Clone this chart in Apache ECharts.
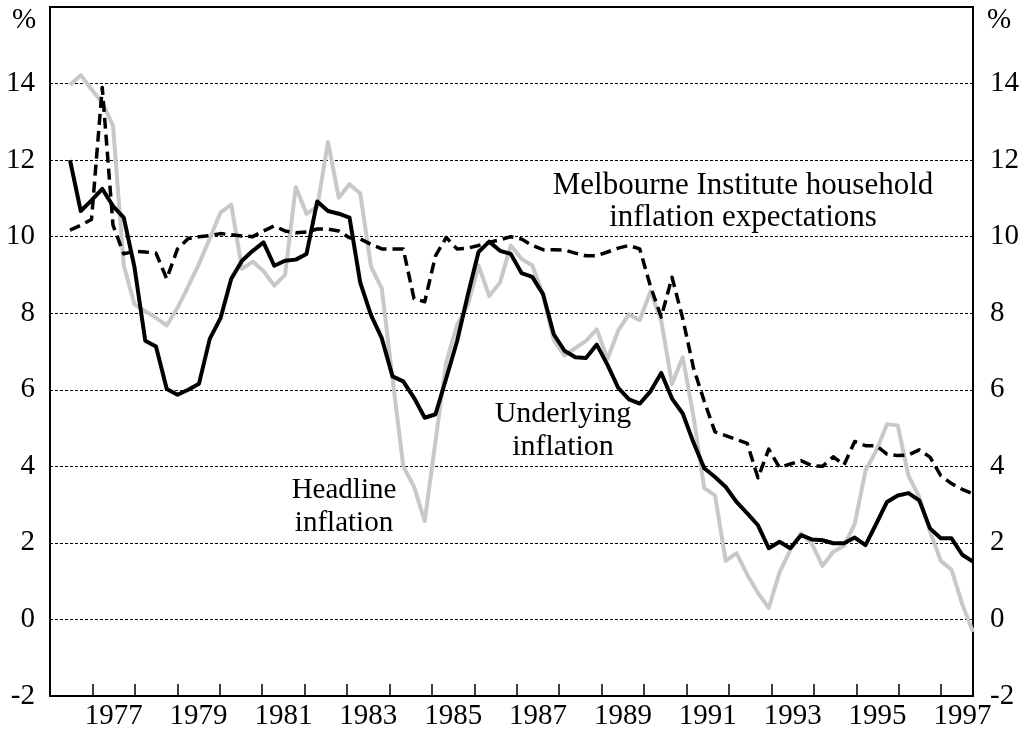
<!DOCTYPE html>
<html>
<head>
<meta charset="utf-8">
<script src="https://cdn.jsdelivr.net/npm/echarts@6/dist/echarts.min.js"></script>
<style>
html, body { margin: 0; background: #fff; }
#chart { width: 1034px; height: 740px; }
</style>
</head>
<body>
<div id="chart"></div>
<script>
// quarterly observations, Sep-1976 .. Sep-1997
var quarters = [];
(function () {
    var m = ['Mar', 'Jun', 'Sep', 'Dec'];
    for (var y = 1976; y <= 1997; y++) {
        for (var q = 0; q < 4; q++) {
            if (y === 1976 && q < 2) continue;
            if (y === 1997 && q > 2) continue;
            quarters.push(m[q] + '-' + y);
        }
    }
})();

var headline = [
    13.96, 14.22, 13.85, 13.5, 12.9, 9.25, 8.23, 8.05, 7.88, 7.68,
    8.14, 8.7, 9.29, 9.95, 10.63, 10.84, 9.16, 9.35, 9.1, 8.72,
    9.0, 11.3, 10.6, 10.78, 12.47, 11.02, 11.37, 11.13, 9.22, 8.65,
    6.3, 4.0, 3.47, 2.57, 4.66, 6.72, 7.69, 8.21, 9.25, 8.45,
    8.8, 9.77, 9.42, 9.25, 8.5, 7.3, 6.89, 7.09, 7.28, 7.58,
    6.8, 7.55, 7.97, 7.82, 8.57, 7.8, 6.15, 6.85, 5.3, 3.43,
    3.24, 1.53, 1.73, 1.17, 0.69, 0.3, 1.23, 1.81, 2.25, 1.99,
    1.4, 1.77, 1.92, 2.5, 3.89, 4.41, 5.1, 5.07, 3.75, 3.2,
    2.3, 1.53, 1.3, 0.4, -0.33
];
var underlying = [
    12.0, 10.67, 10.95, 11.25, 10.8, 10.5, 9.2, 7.28, 7.13, 6.02,
    5.87, 6.0, 6.16, 7.33, 7.87, 8.9, 9.37, 9.63, 9.85, 9.24,
    9.37, 9.4, 9.55, 10.92, 10.67, 10.6, 10.5, 8.8, 7.95, 7.35,
    6.35, 6.22, 5.79, 5.27, 5.36, 6.3, 7.26, 8.47, 9.6, 9.87,
    9.63, 9.55, 9.05, 8.95, 8.5, 7.45, 7.02, 6.85, 6.83, 7.18,
    6.65, 6.05, 5.75, 5.64, 5.96, 6.44, 5.77, 5.38, 4.62, 3.95,
    3.72, 3.46, 3.07, 2.77, 2.46, 1.86, 2.03, 1.86, 2.2, 2.09,
    2.07, 1.99, 1.99, 2.14, 1.94, 2.5, 3.07, 3.24, 3.3, 3.11,
    2.38, 2.12, 2.12, 1.69, 1.51
];
var expectations = [
    10.17, 10.3, 10.45, 13.9, 10.3, 9.55, 9.62, 9.6, 9.57, 8.9,
    9.68, 9.95, 10.0, 10.03, 10.08, 10.05, 10.02, 10.0, 10.15, 10.28,
    10.15, 10.1, 10.12, 10.2, 10.2, 10.15, 9.97, 9.94, 9.8, 9.68,
    9.68, 9.68, 8.38, 8.3, 9.5, 9.98, 9.68, 9.7, 9.77, 9.85,
    9.92, 10.0, 9.94, 9.77, 9.66, 9.66, 9.65, 9.57, 9.5, 9.5,
    9.6, 9.7, 9.77, 9.68, 8.7, 7.9, 8.94, 7.86, 6.57, 5.7,
    4.9, 4.8, 4.7, 4.6, 3.7, 4.45, 3.97, 4.06, 4.15, 4.02,
    4.0, 4.25, 4.04, 4.65, 4.54, 4.54, 4.32, 4.28, 4.3, 4.43,
    4.24, 3.76, 3.55, 3.4, 3.28
];

var yearTicks = [1977, 1978, 1979, 1980, 1981, 1982, 1983, 1984, 1985, 1986, 1987,
    1988, 1989, 1990, 1991, 1992, 1993, 1994, 1995, 1996, 1997];
var yearLabels = [1977, 1979, 1981, 1983, 1985, 1987, 1989, 1991, 1993, 1995, 1997];

var FONT = 'Liberation Serif';

var yLabel = {
    fontFamily: FONT,
    fontSize: 29,
    color: '#000',
    formatter: function (v) { return v === 16 ? '' : v; }
};

var option = {
    animation: false,
    backgroundColor: '#fff',
    grid: [
        { left: 50, right: 61, top: 7, bottom: 44, show: true, borderColor: '#000', borderWidth: 2 },
        { left: 70, right: 61, top: 7, bottom: 44 }
    ],
    xAxis: [{
        type: 'value',
        gridIndex: 0,
        min: 1976,
        max: 1997.75,
        axisLine: { show: true, onZero: false, lineStyle: { color: '#000', width: 2 } },
        axisTick: {
            show: true, inside: true, length: 12,
            customValues: yearTicks,
            lineStyle: { color: '#000', width: 1.5 }
        },
        axisLabel: {
            customValues: yearLabels.map(function (y) { return y + 0.5; }),
            formatter: function (v) { return String(Math.floor(v)); },
            fontFamily: FONT, fontSize: 29, color: '#000', margin: 6
        },
        splitLine: { show: false }
    }, {
        type: 'category',
        gridIndex: 1,
        data: quarters,
        boundaryGap: false,
        show: false
    }],
    yAxis: [{
        type: 'value',
        gridIndex: 0,
        position: 'left',
        min: -2, max: 16, interval: 2,
        axisLine: { show: false },
        axisTick: { show: false },
        axisLabel: Object.assign({ margin: 15 }, yLabel),
        splitLine: { show: true, lineStyle: { color: '#000', width: 1, type: [3, 2] } }
    }, {
        type: 'value',
        gridIndex: 0,
        position: 'right',
        min: -2, max: 16, interval: 2,
        axisLine: { show: false },
        axisTick: { show: false },
        axisLabel: Object.assign({ margin: 17 }, yLabel),
        splitLine: { show: false }
    }, {
        type: 'value',
        gridIndex: 1,
        min: -2, max: 16, interval: 2,
        show: false,
        splitLine: { show: false }
    }],
    series: [{
        name: 'Headline inflation',
        type: 'line',
        xAxisIndex: 1, yAxisIndex: 2,
        data: headline,
        symbol: 'none',
        lineStyle: { color: '#c8c8c8', width: 4, join: 'round' },
        z: 3
    }, {
        name: 'Underlying inflation',
        type: 'line',
        xAxisIndex: 1, yAxisIndex: 2,
        data: underlying,
        symbol: 'none',
        lineStyle: { color: '#000', width: 4, join: 'round' },
        z: 4
    }, {
        name: 'Melbourne Institute household inflation expectations',
        type: 'line',
        xAxisIndex: 1, yAxisIndex: 2,
        data: expectations,
        symbol: 'none',
        lineStyle: { color: '#000', width: 3.5, type: [11, 6], join: 'round' },
        z: 5
    }],
    graphic: [
        { type: 'text', left: 12, top: 6, style: { text: '%', font: '29px "' + FONT + '"', fill: '#000' } },
        { type: 'text', left: 987, top: 6, style: { text: '%', font: '29px "' + FONT + '"', fill: '#000' } },
        {
            type: 'text', x: 743, y: 202,
            style: {
                text: 'Melbourne Institute household\ninflation expectations',
                font: '31px "' + FONT + '"', fill: '#000',
                textAlign: 'center', textVerticalAlign: 'middle', lineHeight: 32
            }
        },
        {
            type: 'text', x: 563, y: 431,
            style: {
                text: 'Underlying\ninflation',
                font: '30px "' + FONT + '"', fill: '#000',
                textAlign: 'center', textVerticalAlign: 'middle', lineHeight: 33
            }
        },
        {
            type: 'text', x: 344, y: 507,
            style: {
                text: 'Headline\ninflation',
                font: '29px "' + FONT + '"', fill: '#000',
                textAlign: 'center', textVerticalAlign: 'middle', lineHeight: 33
            }
        }
    ]
};

var myChart = echarts.init(document.getElementById('chart'));
myChart.setOption(option);
</script>
</body>
</html>
